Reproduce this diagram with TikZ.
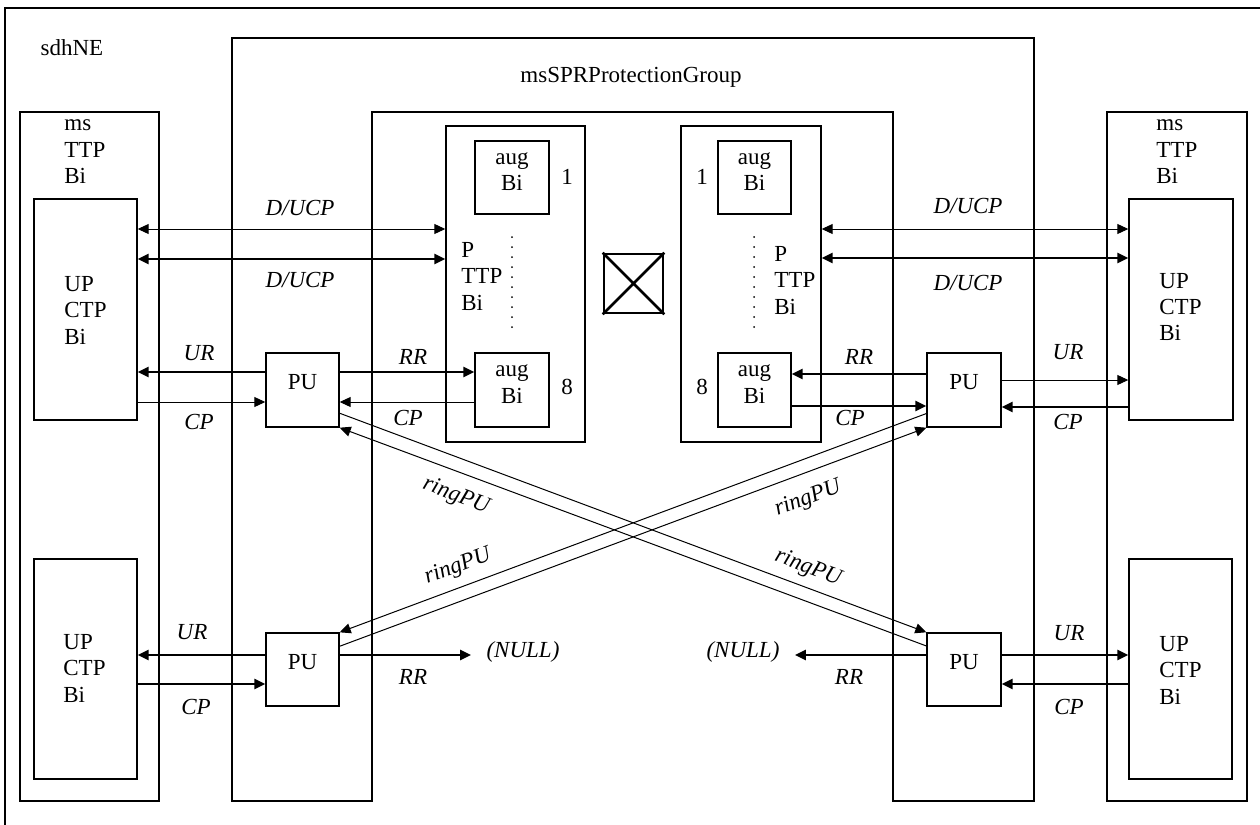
\documentclass[tikz,border=0pt]{standalone}
\usepackage{fontspec}
\setmainfont{Liberation Serif}
\usetikzlibrary{arrows.meta,fit}
\begin{document}
\begin{tikzpicture}[x=0.5pt, y=-0.5pt, >={Triangle[length=5.5pt,width=5pt]},
    every node/.style={font=\fontsize{11.5}{13.25}\selectfont, inner sep=0pt},
    box/.style={draw, line width=0.7pt},
    tag/.style={font=\fontsize{11.5}{13.25}\selectfont\itshape},
    nul/.style={tag, inner xsep=7.5pt},
    stack/.style={align=left, anchor=west},
    slim/.style={line width=0.5pt},
    fat/.style={line width=1.2pt}]
    \useasboundingbox (0,0) rectangle (1260,825);

    % Frame
    \draw[line width=0.7pt] (1260,8) -- (5,8) -- (5,825);
    \node (ne) at (72,48) {sdhNE};

    % Protection group
    \draw[box] (232,801) -- (232,38) -- (1034,38) -- (1034,801) -- (893,801)
        -- (893,112) -- (372,112) -- (372,801) -- cycle;
    \node (grp) at (631,77) {msSPRProtectionGroup};

    % Left ms TTP
    \node[box, fit={(20,112) (159,801)}] (msL) {};
    \node[stack] (msLtxt) at (64,152) {ms\\TTP\\Bi};
    \node[box, fit={(34,199) (137,420)}] (upL) {};
    \node[stack] (upLtxt) at (64,310) {UP\\CTP\\Bi};
    \node[box, fit={(34,559) (137,779)}] (dnL) {};
    \node[stack] (dnLtxt) at (63,668) {UP\\CTP\\Bi};

    % Right ms TTP
    \node[box, fit={(1107,112) (1247,801)}] (msR) {};
    \node[stack] (msRtxt) at (1156,152) {ms\\TTP\\Bi};
    \node[box, fit={(1129,199) (1233,420)}] (upR) {};
    \node[stack] (upRtxt) at (1159,307) {UP\\CTP\\Bi};
    \node[box, fit={(1129,559) (1232,779)}] (dnR) {};
    \node[stack] (dnRtxt) at (1159,670) {UP\\CTP\\Bi};

    % P TTP blocks
    \node[box, fit={(446,126) (585,442)}] (pL) {};
    \node[stack] (pLtxt) at (461,276) {P\\TTP\\Bi};
    \node[box, align=left, fit={(475,141) (549,214)}] (augL1) {aug\\Bi};
    \node[box, align=left, fit={(475,353) (549,427)}] (augL8) {aug\\Bi};
    \node (oneL) at (567,177) {1};
    \node (eightL) at (567,387) {8};
    \draw[line width=1pt, line cap=round, dash pattern=on 0pt off 5pt] (512,237) -- (512,329);

    \node[box, fit={(681,126) (821,442)}] (pR) {};
    \node[stack] (pRtxt) at (774,280) {P\\TTP\\Bi};
    \node[box, align=left, fit={(718,141) (791,214)}] (augR1) {aug\\Bi};
    \node[box, align=left, fit={(718,353) (791,427)}] (augR8) {aug\\Bi};
    \node (oneR) at (702,177) {1};
    \node (eightR) at (702,387) {8};
    \draw[line width=1pt, line cap=round, dash pattern=on 0pt off 5pt] (754,237) -- (754,329);

    % Cross connect
    \node[draw, line width=1.3pt, fit={(604,254) (663,313)}] (xc) {};
    \draw[line width=1.3pt] (xc.north west) -- (xc.south east) (xc.north east) -- (xc.south west);

    % Protection units
    \node[box, fit={(266,353) (339,427)}] (puTL) {PU};
    \node[box, fit={(927,353) (1001,427)}] (puTR) {PU};
    \node[box, fit={(266,633) (339,706)}] (puBL) {PU};
    \node[box, fit={(927,633) (1001,706)}] (puBR) {PU};

    % D/UCP
    \draw[slim,<->] (upL.east |- 0,229) -- (pL.west |- 0,229);
    \draw[fat,<->] (upL.east |- 0,259) -- (pL.west |- 0,259);
    \node[tag] (duL1) at (300,208) {D/UCP};
    \node[tag] (duL2) at (300,280) {D/UCP};
    \draw[slim,<->] (pR.east |- 0,229) -- (upR.west |- 0,229);
    \draw[fat,<->] (pR.east |- 0,258) -- (upR.west |- 0,258);
    \node[tag] (duR1) at (968,206) {D/UCP};
    \node[tag] (duR2) at (968,283) {D/UCP};

    % Top left PU
    \draw[fat,->] (puTL.west |- 0,372) -- (upL.east |- 0,372);
    \draw[slim,->] (upL.east |- 0,402) -- (puTL.west |- 0,402);
    \draw[fat,->] (puTL.east |- 0,372) -- (augL8.west |- 0,372);
    \draw[slim,->] (augL8.west |- 0,402) -- (puTL.east |- 0,402);
    \node[tag] (urTL) at (199,353) {UR};
    \node[tag] (cpTL) at (199,422) {CP};
    \node[tag] (rrTL) at (413,357) {RR};
    \node[tag] (cpTL2) at (408,418) {CP};

    % Top right PU
    \draw[fat,->] (puTR.west |- 0,374) -- (augR8.east |- 0,374);
    \draw[fat,->] (augR8.east |- 0,406) -- (puTR.west |- 0,406);
    \draw[slim,->] (puTR.east |- 0,380) -- (upR.west |- 0,380);
    \draw[fat,->] (upR.west |- 0,407) -- (puTR.east |- 0,407);
    \node[tag] (rrTR) at (859,357) {RR};
    \node[tag] (cpTR2) at (850,418) {CP};
    \node[tag] (urTR) at (1068,352) {UR};
    \node[tag] (cpTR) at (1068,422) {CP};

    % Bottom left PU
    \node[nul] (nullL) at (523,652) {(NULL)};
    \draw[fat,->] (puBL.west |- 0,655) -- (dnL.east |- 0,655);
    \draw[fat,->] (dnL.east |- 0,684) -- (puBL.west |- 0,684);
    \draw[fat,->] (puBL.east |- 0,655) -- (nullL.west |- 0,655);
    \node[tag] (urBL) at (192,632) {UR};
    \node[tag] (cpBL) at (196,707) {CP};
    \node[tag] (rrBL) at (413,677) {RR};

    % Bottom right PU
    \node[nul] (nullR) at (743,652) {(NULL)};
    \draw[fat,->] (puBR.west |- 0,655) -- (nullR.east |- 0,655);
    \draw[fat,->] (puBR.east |- 0,655) -- (dnR.west |- 0,655);
    \draw[fat,->] (dnR.west |- 0,684) -- (puBR.east |- 0,684);
    \node[tag] (rrBR) at (849,677) {RR};
    \node[tag] (urBR) at (1069,633) {UR};
    \node[tag] (cpBR) at (1069,707) {CP};

    % Ring
    \draw[slim,->] (puTL.-32) -- (puBR.north west);
    \draw[slim,->] (puBR.148) -- (puTL.south east);
    \draw[slim,->] (puTR.212) -- (puBL.north east);
    \draw[slim,->] (puBL.32) -- (puTR.south west);
    \node[tag, rotate=-20.5] (rg1) at (456,496) {ringPU};
    \node[tag, rotate=20.5] (rg2) at (808,499) {ringPU};
    \node[tag, rotate=20.5] (rg3) at (458,567) {ringPU};
    \node[tag, rotate=-20.5] (rg4) at (808,568) {ringPU};
\end{tikzpicture}
\end{document}
